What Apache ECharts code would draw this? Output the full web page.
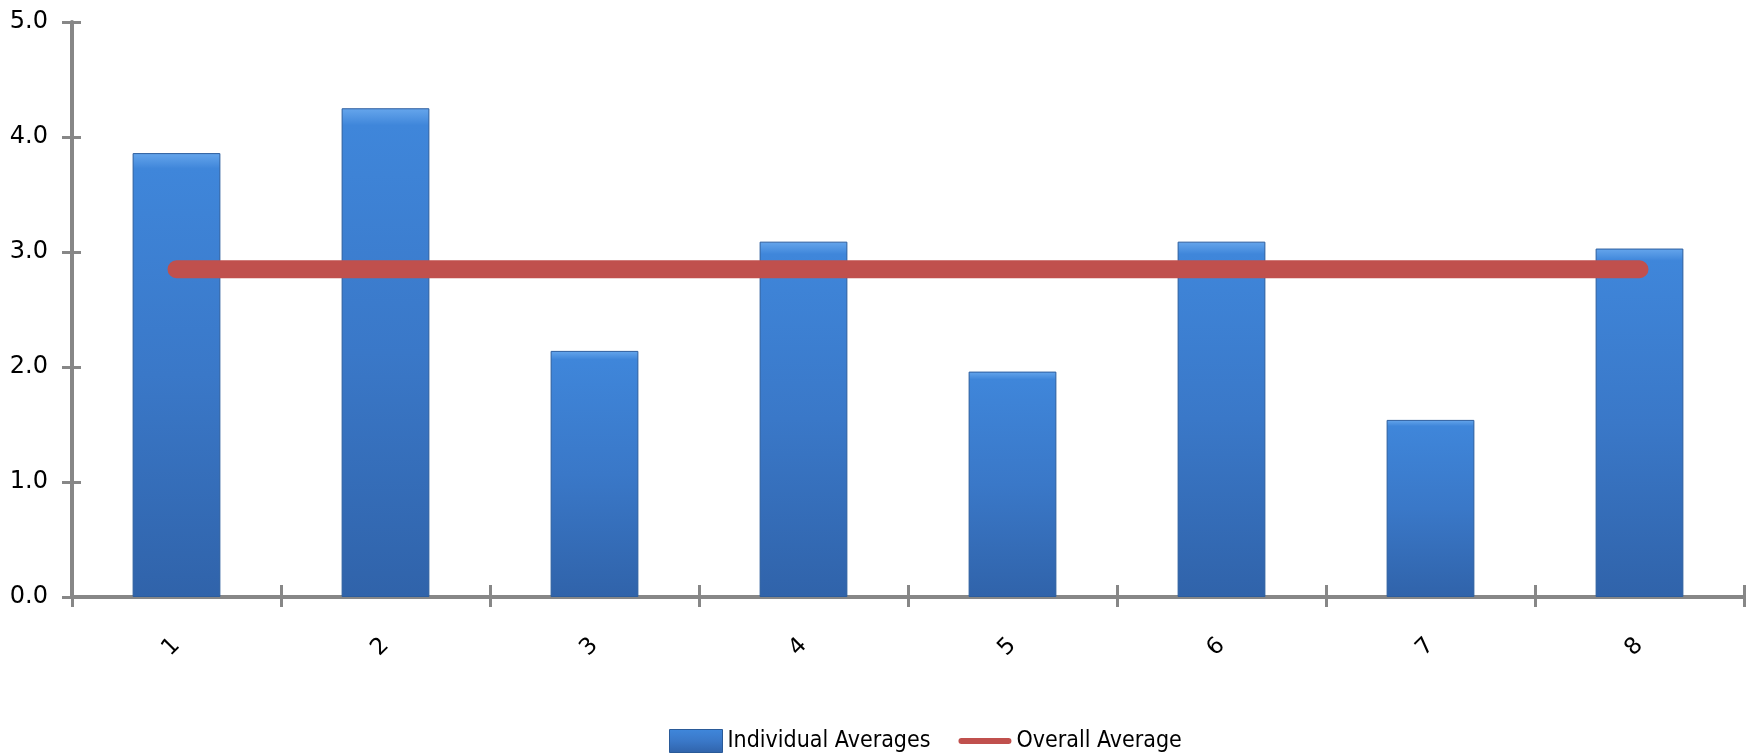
<!DOCTYPE html>
<html>
<head>
<meta charset="utf-8">
<script src="https://cdn.jsdelivr.net/npm/echarts@6/dist/echarts.min.js"></script>
<style>
  html, body { margin: 0; padding: 0; background: #ffffff; }
  #chart { width: 1747px; height: 754px; }
</style>
</head>
<body>
<div id="chart"></div>
<script>
// Category labels along the x axis
const categories = ['1', '2', '3', '4', '5', '6', '7', '8'];
// Mean score per item
const individualAverages = [3.86, 4.25, 2.14, 3.09, 1.96, 3.09, 1.54, 3.03];
// Mean over all responses
const overallAverage = [2.85, 2.85, 2.85, 2.85, 2.85, 2.85, 2.85, 2.85];
// Value axis range and step
const yMin = 0, yMax = 5, yStep = 1;

const axisGray = '#878787';
const labelFont = "'DejaVu Sans', Verdana, sans-serif";
const gridBox = { left: 72, right: 3, top: 22, bottom: 157 };

const chart = echarts.init(document.getElementById('chart'), null, { renderer: 'canvas' });

chart.setOption({
  animation: false,
  backgroundColor: '#ffffff',
  grid: [
    Object.assign({ containLabel: false }, gridBox),
    // second grid on the same box only carries the inward half of the ticks
    Object.assign({ containLabel: false }, gridBox)
  ],
  legend: {
    left: 664,
    top: 724,
    itemGap: 28,
    textStyle: {
      fontFamily: "'DejaVu Sans Condensed', 'Liberation Sans Narrow', sans-serif",
      fontSize: 23,
      color: '#000000'
    },
    data: [
      { name: 'Individual Averages', icon: 'rect', itemStyle: { borderColor: '#2a5a98', borderWidth: 1 } },
      {
        name: 'Overall Average',
        // short thick stroke with rounded ends
        icon: 'path://M3,0 H50 A3,3 0 0 1 50,6 H3 A3,3 0 0 1 3,0 Z',
        itemStyle: { color: '#c0504d', borderWidth: 0 }
      }
    ],
    itemWidth: 53,
    itemHeight: 23
  },
  xAxis: [
    {
      type: 'category',
      gridIndex: 0,
      data: categories,
      boundaryGap: true,
      axisLine: { show: true, lineStyle: { color: axisGray, width: 4 } },
      axisTick: { show: true, inside: false, length: 10, alignWithLabel: false, lineStyle: { color: axisGray, width: 3 } },
      axisLabel: {
        rotate: 45,
        margin: 45,
        fontFamily: labelFont,
        fontSize: 23,
        color: '#000000'
      },
      splitLine: { show: false }
    },
    {
      type: 'category',
      gridIndex: 1,
      data: categories,
      boundaryGap: true,
      axisLine: { show: false },
      axisTick: { show: true, inside: true, length: 12, lineStyle: { color: axisGray, width: 3 } },
      axisLabel: { show: false },
      splitLine: { show: false }
    }
  ],
  yAxis: [
    {
      type: 'value',
      gridIndex: 0,
      min: yMin,
      max: yMax,
      interval: yStep,
      axisLine: { show: true, lineStyle: { color: axisGray, width: 4 } },
      axisTick: { show: true, inside: false, length: 10, lineStyle: { color: axisGray, width: 3 } },
      axisLabel: {
        margin: 24,
        formatter: v => v.toFixed(1),
        fontFamily: labelFont,
        fontSize: 24,
        color: '#000000'
      },
      splitLine: { show: false }
    },
    {
      type: 'value',
      gridIndex: 1,
      min: yMin,
      max: yMax,
      interval: yStep,
      axisLine: { show: false },
      axisTick: { show: true, inside: true, length: 9, lineStyle: { color: axisGray, width: 3 } },
      axisLabel: { show: false },
      splitLine: { show: false }
    }
  ],
  series: [
    {
      name: 'Individual Averages',
      type: 'bar',
      xAxisIndex: 0,
      yAxisIndex: 0,
      data: individualAverages,
      barWidth: '42%',
      itemStyle: {
        color: new echarts.graphic.LinearGradient(0, 0, 0, 1, [
          { offset: 0, color: '#66a6ec' },
          { offset: 0.035, color: '#3f86da' },
          { offset: 0.5, color: '#3a78c8' },
          { offset: 1, color: '#3063aa' }
        ]),
        borderColor: '#2c5d9e',
        borderWidth: 1
      },
      z: 2
    },
    {
      name: 'Overall Average',
      type: 'line',
      xAxisIndex: 0,
      yAxisIndex: 0,
      data: overallAverage,
      symbol: 'none',
      lineStyle: { color: '#c0504d', width: 18, cap: 'round' },
      itemStyle: { color: '#c0504d' },
      z: 3
    }
  ]
});
</script>
</body>
</html>
